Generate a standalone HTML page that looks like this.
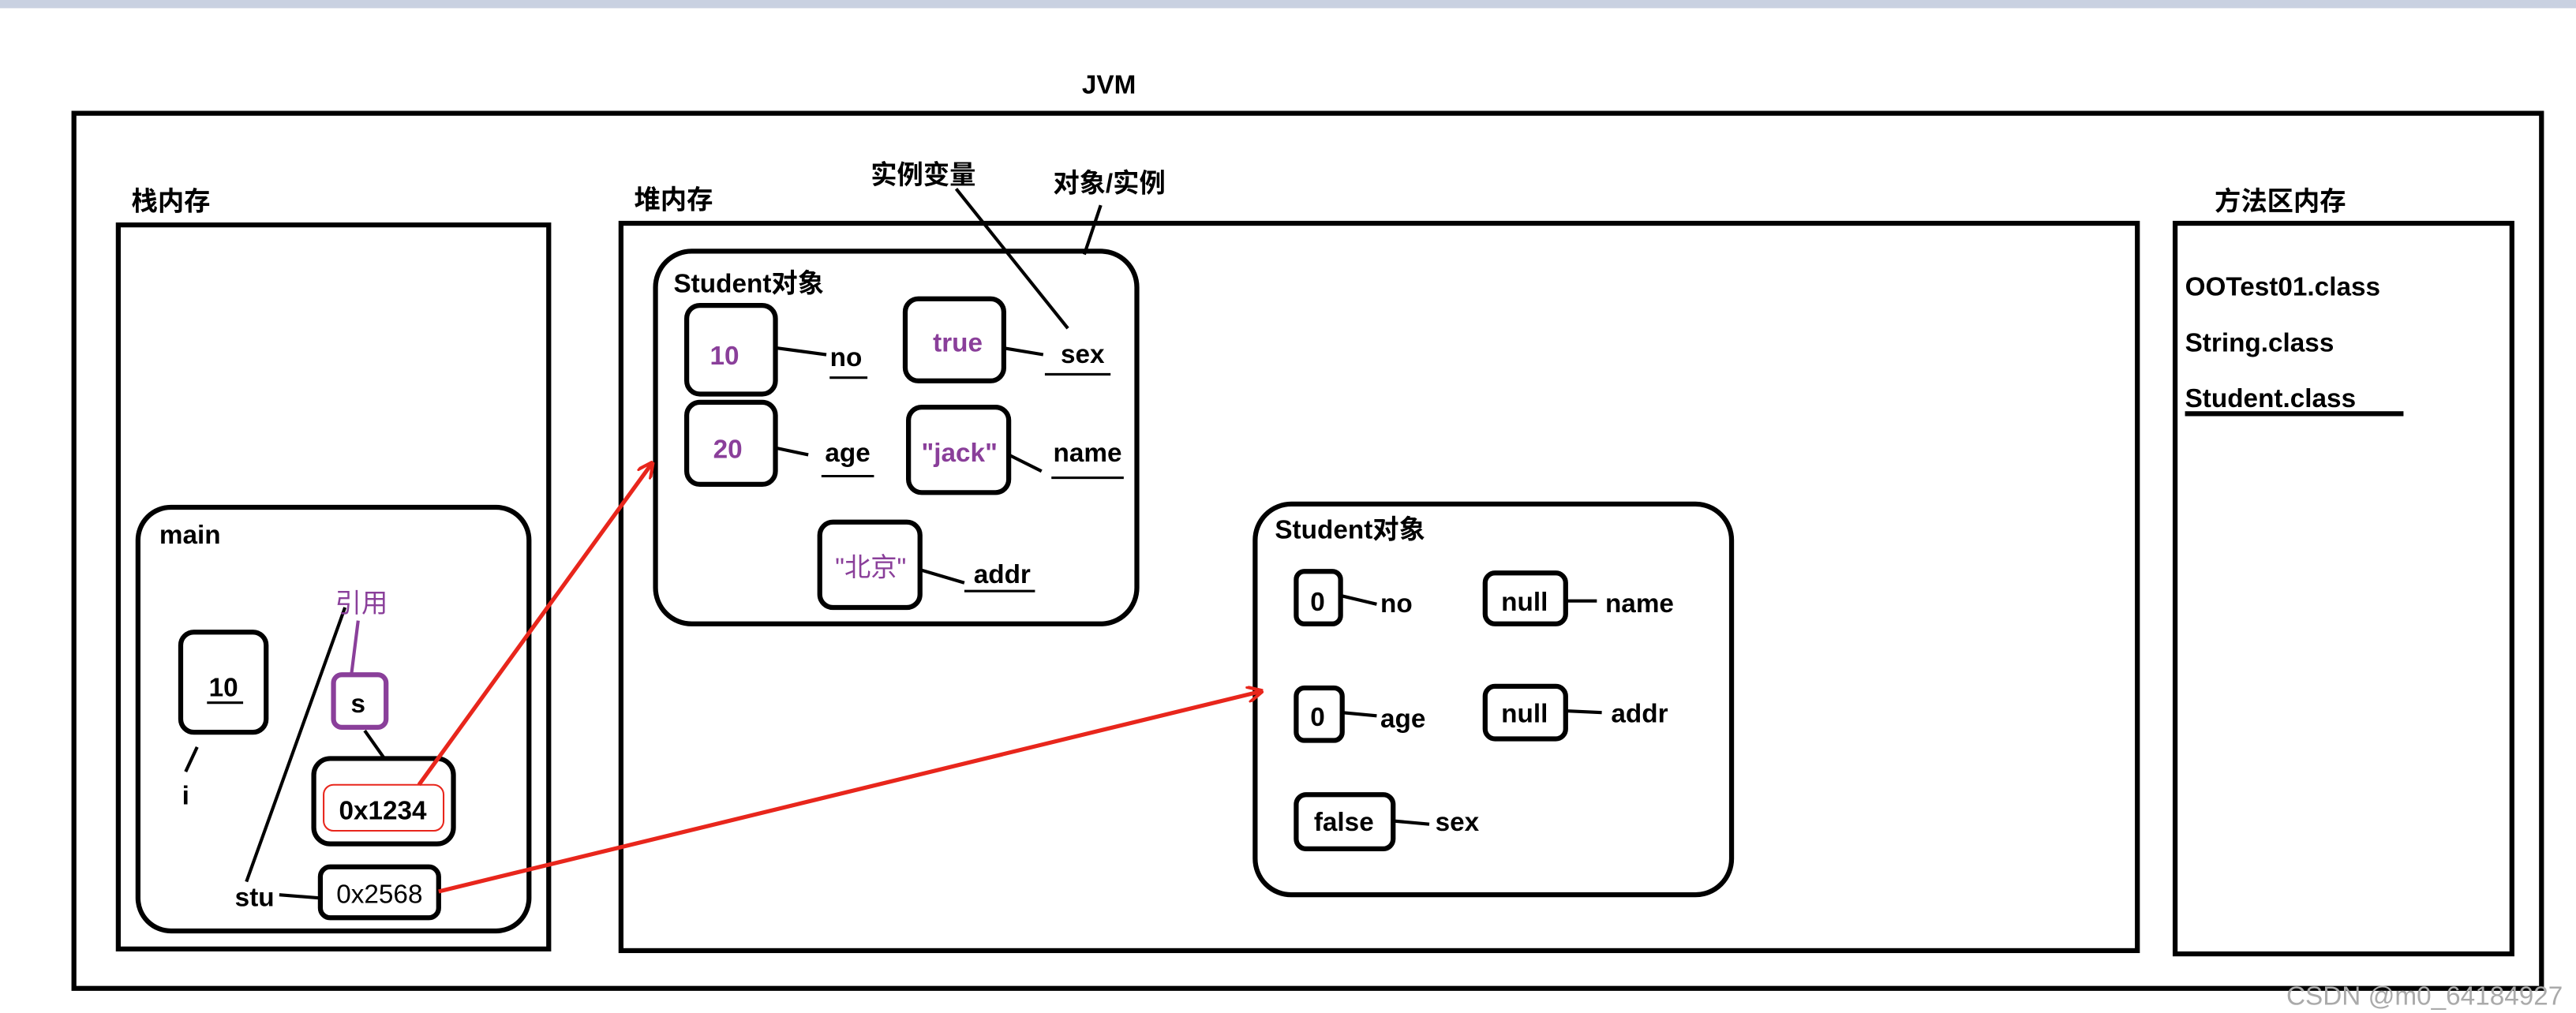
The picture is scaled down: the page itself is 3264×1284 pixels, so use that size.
<!DOCTYPE html>
<html><head><meta charset="utf-8">
<style>
html,body{margin:0;padding:0;background:#fff;}
svg{display:block;}
text{font-family:"Liberation Sans","Noto Sans CJK SC",sans-serif;font-weight:bold;font-size:16px;fill:#000;}
.p{fill:#8a3f9a;}
.n{font-weight:normal;}
</style></head><body>
<svg width="3264" height="1284" viewBox="0 0 1568 617" preserveAspectRatio="none" xmlns="http://www.w3.org/2000/svg">
<defs>
<marker id="ah" markerWidth="10" markerHeight="10" refX="9" refY="5" orient="auto" markerUnits="userSpaceOnUse"><path d="M0,0 L10,5 L0,10" fill="none" stroke="#e8261c" stroke-width="2"/></marker>
</defs>
<rect x="0" y="0" width="1568" height="5" fill="#c9d1e1"/>
<g fill="none" stroke="#000" stroke-width="3">
<rect x="45" y="69" width="1502" height="533"/>
<rect x="72" y="137" width="262" height="441"/>
<rect x="84" y="309" width="238" height="258" rx="20"/>
<rect x="110" y="385" width="52" height="61" rx="8"/>
<rect x="191" y="462" width="85" height="52" rx="10"/>
<rect x="195" y="528" width="72" height="31" rx="6"/>
<rect x="378" y="136" width="923" height="443"/>
<rect x="399" y="153" width="293" height="227" rx="22"/>
<rect x="418" y="186" width="54" height="54" rx="8"/>
<rect x="551" y="182" width="60" height="50" rx="8"/>
<rect x="418" y="245" width="54" height="50" rx="8"/>
<rect x="553" y="248" width="61" height="52" rx="8"/>
<rect x="499" y="318" width="61" height="52" rx="8"/>
<rect x="764" y="307" width="290" height="238" rx="22"/>
<rect x="789" y="348" width="27" height="32" rx="5"/>
<rect x="904" y="349" width="49" height="31" rx="6"/>
<rect x="789" y="419" width="28" height="32" rx="5"/>
<rect x="904" y="418" width="49" height="32" rx="6"/>
<rect x="789" y="484" width="59" height="33" rx="6"/>
<rect x="1324" y="136" width="205" height="445"/>
</g>
<rect x="203" y="411" width="32" height="32" rx="5" fill="none" stroke="#8a3f9a" stroke-width="3"/>
<rect x="197" y="478" width="73" height="28" rx="6" fill="none" stroke="#e8261c" stroke-width="1"/>
<g stroke="#000" stroke-width="2" fill="none">
<line x1="120" y1="455" x2="113" y2="470"/>
<line x1="210" y1="370" x2="150" y2="537"/>
<line x1="222" y1="445" x2="234" y2="462"/>
<line x1="170" y1="545" x2="195" y2="547"/>
<line x1="582" y1="115" x2="650" y2="200"/>
<line x1="670" y1="125" x2="660" y2="155"/>
<line x1="473" y1="212" x2="503" y2="216"/>
<line x1="611" y1="212" x2="635" y2="216"/>
<line x1="473" y1="273" x2="492" y2="277"/>
<line x1="614" y1="277" x2="634" y2="287"/>
<line x1="560" y1="347" x2="587" y2="355"/>
<line x1="817" y1="363" x2="838" y2="368"/>
<line x1="953" y1="366" x2="972" y2="366"/>
<line x1="817" y1="434" x2="838" y2="436"/>
<line x1="953" y1="433" x2="975" y2="434"/>
<line x1="848" y1="500" x2="870" y2="502"/>
<line x1="1330" y1="252" x2="1463" y2="252" stroke-width="3"/>
<g stroke-width="1.5">
<line x1="126" y1="428" x2="148" y2="428"/>
<line x1="505" y1="230" x2="528" y2="230"/>
<line x1="636" y1="228" x2="676" y2="228"/>
<line x1="500" y1="290" x2="532" y2="290"/>
<line x1="640" y1="291" x2="684" y2="291"/>
<line x1="587" y1="360" x2="630" y2="360"/>
</g>
</g>
<line x1="218" y1="378" x2="214" y2="410" stroke="#8a3f9a" stroke-width="2"/>
<g stroke="#e8261c" stroke-width="2.5" fill="none">
<line x1="255" y1="478" x2="397" y2="282" marker-end="url(#ah)"/>
<line x1="267" y1="543" x2="768" y2="421" marker-end="url(#ah)"/>
</g>
<text x="675" y="57" text-anchor="middle" font-size="17">JVM</text>
<text x="80" y="128">栈内存</text>
<text x="386" y="127">堆内存</text>
<text x="530" y="112">实例变量</text>
<text x="641" y="117">对象/实例</text>
<text x="1348" y="128">方法区内存</text>
<text x="97" y="331">main</text>
<text x="136" y="424" text-anchor="middle" font-size="17">10</text>
<text x="113" y="490" text-anchor="middle">i</text>
<text x="220" y="373" text-anchor="middle" class="p n" font-size="17">引用</text>
<text x="218" y="434" text-anchor="middle">s</text>
<text x="233" y="499" text-anchor="middle" font-size="17">0x1234</text>
<text x="231" y="550" text-anchor="middle" class="n" font-size="15">0x2568</text>
<text x="155" y="552" text-anchor="middle">stu</text>
<text x="410" y="178">Student对象</text>
<text x="441" y="222" text-anchor="middle" class="p" font-size="18">10</text>
<text x="515" y="223" text-anchor="middle">no</text>
<text x="583" y="214" text-anchor="middle" class="p" font-size="17">true</text>
<text x="659" y="221" text-anchor="middle">sex</text>
<text x="443" y="279" text-anchor="middle" class="p" font-size="18">20</text>
<text x="516" y="281" text-anchor="middle">age</text>
<text x="584" y="281" text-anchor="middle" class="p" font-size="16">"jack"</text>
<text x="530" y="351" text-anchor="middle" class="p n" font-size="17">"北京"</text>
<text x="662" y="281" text-anchor="middle">name</text>
<text x="610" y="355" text-anchor="middle">addr</text>
<text x="776" y="328">Student对象</text>
<text x="802" y="372" text-anchor="middle">0</text>
<text x="850" y="373" text-anchor="middle">no</text>
<text x="928" y="372" text-anchor="middle">null</text>
<text x="998" y="373" text-anchor="middle">name</text>
<text x="802" y="442" text-anchor="middle">0</text>
<text x="854" y="443" text-anchor="middle">age</text>
<text x="928" y="440" text-anchor="middle">null</text>
<text x="998" y="440" text-anchor="middle">addr</text>
<text x="818" y="506" text-anchor="middle">false</text>
<text x="887" y="506" text-anchor="middle">sex</text>
<text x="1330" y="180">OOTest01.class</text>
<text x="1330" y="214">String.class</text>
<text x="1330" y="248">Student.class</text>
<text x="1560" y="612" text-anchor="end" class="n" font-size="9" style="fill:#aaa">CSDN @m0_64184927</text>
</svg>
</body></html>
